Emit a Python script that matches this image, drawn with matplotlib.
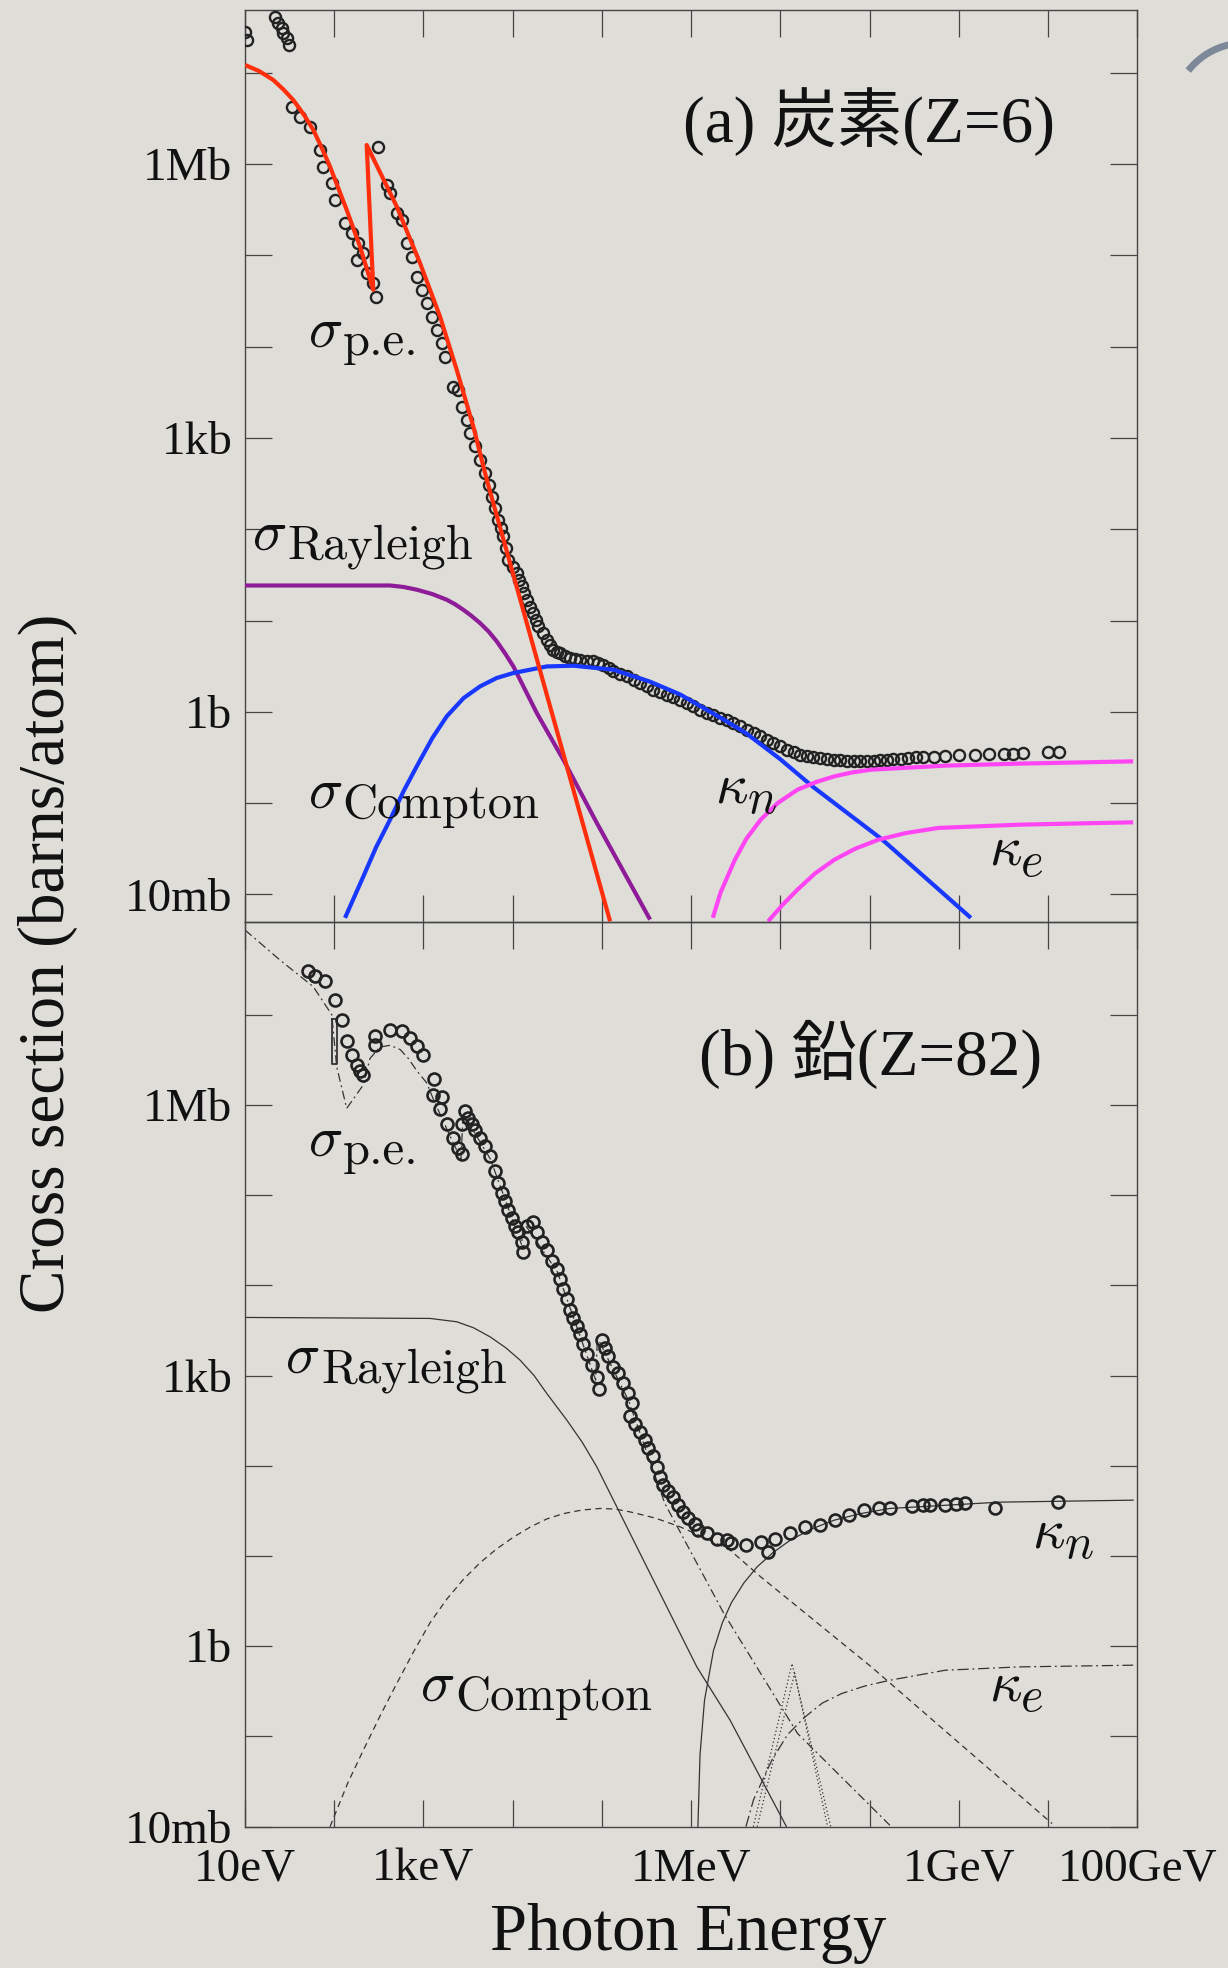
# coding: utf-8
# !/usr/bin/env python

import matplotlib
matplotlib.use('Agg')
import matplotlib.pyplot as plt
import numpy as np

from matplotlib.patches import Arc
from matplotlib.ticker import FixedLocator, FixedFormatter, NullLocator
from matplotlib.transforms import offset_copy


# all values are log10(E / eV) and log10(sigma / barn)

# (a) carbon, Z=6: measured total cross section
c_points = [
    (1.000, 7.452), (1.020, 7.361),
    (1.336, 7.617), (1.373, 7.544), (1.411, 7.490), (1.429, 7.435), (1.467, 7.380), (1.497, 7.307),
    (1.524, 6.631), (1.617, 6.521), (1.729, 6.412), (1.841, 6.157), (1.879, 5.974), (1.973, 5.792),
    (2.009, 5.609), (2.121, 5.354), (2.196, 5.244), (2.270, 5.135), (2.326, 5.025), (2.252, 4.952),
    (2.364, 4.806), (2.438, 4.697), (2.469, 4.550), (2.494, 6.193),
    (2.589, 5.773), (2.626, 5.682), (2.701, 5.463), (2.757, 5.390), (2.813, 5.135), (2.869, 4.988),
    (2.925, 4.769), (2.981, 4.623), (3.037, 4.478), (3.093, 4.331), (3.149, 4.185), (3.205, 4.039),
    (3.242, 3.893), (3.335, 3.564), (3.391, 3.528), (3.429, 3.345), (3.485, 3.199), (3.522, 3.054),
    (3.578, 2.907), (3.634, 2.761), (3.691, 2.616), (3.730, 2.480), (3.766, 2.359), (3.800, 2.230),
    (3.840, 2.104), (3.870, 2.010), (3.896, 1.921), (3.925, 1.790), (3.952, 1.666), (4.000, 1.590),
    (4.046, 1.520), (4.075, 1.440), (4.102, 1.374), (4.130, 1.300), (4.158, 1.228), (4.195, 1.150),
    (4.232, 1.082), (4.260, 1.010), (4.288, 0.935), (4.335, 0.860), (4.382, 0.790), (4.420, 0.730),
    (4.456, 0.680), (4.495, 0.660), (4.531, 0.644), (4.590, 0.615), (4.643, 0.589), (4.700, 0.580),
    (4.756, 0.571), (4.830, 0.560), (4.905, 0.552), (4.960, 0.535), (5.017, 0.516), (5.075, 0.480),
    (5.129, 0.443), (5.205, 0.415), (5.279, 0.388), (5.355, 0.350), (5.428, 0.315), (5.500, 0.280),
    (5.577, 0.242), (5.650, 0.215), (5.727, 0.187), (5.800, 0.160), (5.877, 0.132), (5.950, 0.095),
    (6.026, 0.059), (6.100, 0.022), (6.176, -0.013), (6.250, -0.040), (6.325, -0.068), (6.400, -0.095),
    (6.474, -0.123), (6.550, -0.160), (6.624, -0.196), (6.700, -0.233), (6.773, -0.270), (6.850, -0.306),
    (6.923, -0.342), (7.000, -0.380), (7.073, -0.415), (7.150, -0.445), (7.222, -0.470), (7.300, -0.485),
    (7.371, -0.495), (7.445, -0.507), (7.521, -0.517), (7.600, -0.525), (7.670, -0.532), (7.745, -0.538),
    (7.820, -0.543), (7.895, -0.543), (7.970, -0.543), (8.045, -0.538), (8.119, -0.532), (8.190, -0.525),
    (8.268, -0.517), (8.350, -0.512), (8.433, -0.506), (8.520, -0.500), (8.600, -0.495), (8.723, -0.490),
    (8.847, -0.488), (9.000, -0.478), (9.178, -0.470), (9.340, -0.462), (9.503, -0.459), (9.607, -0.459),
    (9.714, -0.451), (10.003, -0.444), (10.127, -0.444),
]

# (a) carbon: partial cross sections
c_pe_logE = [1.000, 1.160, 1.317, 1.430, 1.541, 1.655, 1.766, 1.860, 1.953, 2.140, 2.289, 2.438, 2.364, 2.701,
             2.962, 3.186, 3.373, 3.559, 3.710, 5.092]
c_pe_logsig = [7.088, 7.020, 6.923, 6.820, 6.704, 6.550, 6.376, 6.180, 5.974, 5.499, 5.097, 4.623, 6.211, 5.536,
               4.916, 4.331, 3.747, 3.126, 2.542, -2.296]

c_ray_logE = [1.000, 2.626, 2.775, 2.925, 3.100, 3.261, 3.355, 3.447, 3.540, 3.634, 3.730, 3.822, 3.915, 4.008,
              4.140, 4.270, 4.568, 4.943, 5.540]
c_ray_logsig = [1.384, 1.384, 1.368, 1.338, 1.290, 1.228, 1.178, 1.118, 1.050, 0.973, 0.880, 0.771, 0.640, 0.497,
                0.240, -0.013, -0.525, -1.218, -2.277]

c_comp_logE = [2.121, 2.327, 2.470, 2.626, 2.780, 2.925, 3.100, 3.261, 3.450, 3.634, 3.820, 4.008, 4.382, 4.680,
               5.129, 5.540, 5.877, 6.367, 6.624, 7.000, 7.359, 8.143, 9.135]
c_comp_logsig = [-2.258, -1.803, -1.483, -1.182, -0.865, -0.598, -0.287, -0.050, 0.150, 0.278, 0.370, 0.425,
                 0.497, 0.505, 0.461, 0.330, 0.190, -0.086, -0.240, -0.520, -0.817, -1.401, -2.258]

c_kn_logE = [6.243, 6.330, 6.491, 6.620, 6.780, 6.970, 7.193, 7.400, 7.607, 7.800, 8.020, 8.847, 9.673, 10.954]
c_kn_logsig = [-2.258, -1.980, -1.620, -1.390, -1.182, -1.000, -0.853, -0.770, -0.707, -0.665, -0.634, -0.590,
               -0.568, -0.543]

c_ke_logE = [6.863, 7.020, 7.193, 7.390, 7.607, 7.840, 8.101, 8.400, 8.767, 9.673, 10.954]
c_ke_logsig = [-2.296, -2.120, -1.948, -1.770, -1.620, -1.500, -1.401, -1.330, -1.273, -1.237, -1.211]

# (b) lead, Z=82: measured total cross section
pb_points = [
    (1.710, 7.488), (1.785, 7.429), (1.897, 7.375), (2.009, 7.157), (2.084, 6.945), (2.140, 6.705),
    (2.196, 6.551), (2.252, 6.447), (2.289, 6.379), (2.326, 6.334), (2.457, 6.764), (2.457, 6.660),
    (2.626, 6.831), (2.757, 6.823), (2.850, 6.741), (2.925, 6.651), (2.992, 6.551), (3.119, 6.288),
    (3.104, 6.108), (3.205, 6.085), (3.186, 5.949), (3.261, 5.790), (3.335, 5.632), (3.391, 5.519),
    (3.429, 5.451), (3.429, 5.790), (3.466, 5.927), (3.503, 5.858), (3.542, 5.790), (3.579, 5.723),
    (3.635, 5.632), (3.691, 5.542), (3.747, 5.429), (3.803, 5.271), (3.840, 5.134), (3.878, 5.021),
    (3.915, 4.931), (3.952, 4.840), (3.990, 4.750), (4.027, 4.660), (4.064, 4.592), (4.102, 4.479),
    (4.120, 4.366), (4.158, 4.660), (4.232, 4.705), (4.270, 4.592), (4.326, 4.479), (4.382, 4.388),
    (4.438, 4.275), (4.494, 4.184), (4.531, 4.071), (4.569, 3.958), (4.607, 3.845), (4.643, 3.732),
    (4.681, 3.641), (4.719, 3.551), (4.756, 3.460), (4.793, 3.347), (4.831, 3.234), (4.887, 3.121),
    (4.943, 2.986), (4.972, 2.849), (4.999, 3.393), (5.036, 3.302), (5.073, 3.212), (5.129, 3.099),
    (5.185, 3.030), (5.241, 2.917), (5.297, 2.804), (5.335, 2.691), (5.316, 2.556), (5.372, 2.465),
    (5.428, 2.375), (5.484, 2.284), (5.521, 2.193), (5.577, 2.103), (5.616, 1.990), (5.653, 1.877),
    (5.690, 1.786), (5.746, 1.719), (5.802, 1.651), (5.858, 1.560), (5.914, 1.492), (5.970, 1.424),
    (6.045, 1.356), (6.082, 1.288), (6.176, 1.250), (6.288, 1.194), (6.400, 1.175), (6.450, 1.139),
    (6.614, 1.120), (6.780, 1.157), (6.863, 1.046), (6.945, 1.194), (7.111, 1.250), (7.276, 1.323),
    (7.442, 1.342), (7.607, 1.397), (7.771, 1.452), (7.937, 1.508), (8.102, 1.527), (8.227, 1.527),
    (8.474, 1.552), (8.599, 1.563), (8.681, 1.563), (8.847, 1.563), (8.970, 1.574), (9.073, 1.589),
    (9.404, 1.527), (10.107, 1.600),
]

# (b) lead: partial cross sections
pb_pe_logE = [1.000, 1.392, 1.766, 1.972, 2.028, 2.140, 2.326, 2.401, 2.513, 2.626, 2.738, 2.831, 2.925, 3.037,
              3.111, 3.300, 3.420, 3.445, 3.750, 4.100, 4.120, 4.500, 4.930, 4.950, 5.300, 5.705, 6.367, 7.193,
              8.227]
pb_pe_logsig = [7.938, 7.605, 7.309, 7.000, 6.422, 5.961, 6.221, 6.514, 6.641, 6.660, 6.614, 6.514, 6.379, 6.243,
                6.062, 5.650, 5.400, 5.900, 5.400, 4.450, 4.700, 4.150, 2.950, 3.420, 2.720, 1.583, 0.363, -0.967,
                -1.984]
# the narrow N-edge box
pb_edge_logE = [1.972, 1.972, 2.028, 2.028, 1.972]
pb_edge_logsig = [6.950, 6.450, 6.450, 6.950, 6.950]

pb_ray_logE = [1.000, 3.074, 3.373, 3.560, 3.747, 3.920, 4.083, 4.240, 4.382, 4.607, 4.780, 4.943, 5.503, 6.064,
               6.437, 7.070]
pb_ray_logsig = [3.644, 3.633, 3.596, 3.530, 3.429, 3.310, 3.171, 3.000, 2.802, 2.506, 2.260, 1.988, 0.880, -0.229,
                 -0.820, -2.003]

pb_comp_logE = [1.953, 2.150, 2.326, 2.520, 2.701, 2.890, 3.074, 3.260, 3.447, 3.640, 3.822, 4.010, 4.195, 4.380,
                4.569, 4.780, 4.980, 5.150, 5.316, 5.600, 5.877, 6.160, 6.437, 6.780, 8.020, 10.045]
pb_comp_logsig = [-2.000, -1.520, -1.153, -0.760, -0.413, -0.060, 0.260, 0.520, 0.740, 0.930, 1.080, 1.210, 1.320,
                  1.410, 1.470, 1.510, 1.527, 1.520, 1.489, 1.420, 1.323, 1.200, 1.065, 0.769, -0.229, -1.965]

pb_kn_logE = [6.076, 6.100, 6.150, 6.250, 6.350, 6.450, 6.590, 6.739, 6.920, 7.111, 7.350, 7.603, 7.900, 8.227,
              9.460, 10.954]
pb_kn_logsig = [-2.000, -1.200, -0.600, -0.050, 0.260, 0.480, 0.700, 0.879, 1.040, 1.175, 1.300, 1.397, 1.470,
                1.527, 1.597, 1.619]

pb_ke_logE = [6.614, 6.700, 6.904, 7.080, 7.276, 7.470, 7.688, 7.950, 8.227, 8.847, 9.673, 10.954]
pb_ke_logsig = [-2.000, -1.700, -1.264, -0.980, -0.784, -0.630, -0.524, -0.440, -0.377, -0.266, -0.229, -0.210]

pb_gdr_logE = [6.697, 7.131, 7.565]
pb_gdr_logsig = [-2.000, -0.192, -2.000]
pb_gdr2_logE = [6.740, 7.160, 7.530]
pb_gdr2_logsig = [-2.000, -0.300, -2.000]

# axis ticks and labels
x_ticks = [1, 2, 3, 4, 5, 6, 7, 8, 9, 10, 11]
x_labels = {1: '10eV', 3: '1keV', 6: '1MeV', 9: '1GeV', 11: '100GeV'}
y_ticks = [-2, -1, 0, 1, 2, 3, 4, 5, 6, 7]
y_labels = {-2: '10mb', 0: '1b', 3: '1kb', 6: '1Mb'}

PAPER = '#dfddd8'
FRAME = '#454545'
INK = '#222222'
TEXT = '#111111'
SERIF = ['Liberation Serif', 'Noto Sans CJK JP']


# # # # # # # # # # # # # # # # # # # # # # # # # # # # # # # # # # # # # # #
# functions
# # # # # # # # # # # # # # # # # # # # # # # # # # # # # # # # # # # # # # #
def lin(v):
    return 10.0 ** np.asarray(v, dtype=float)


def setup_axis(ax, ylim, show_x=False):
    """Log axes with inward decade ticks on all four sides."""
    ax.set_xscale('log')
    ax.set_yscale('log')
    ax.set_xlim(1e1, 1e11)
    ax.set_ylim(*ylim)
    ax.set_facecolor('none')
    for s in ax.spines.values():
        s.set_color(FRAME)
        s.set_linewidth(1.0)

    ax.xaxis.set_major_locator(FixedLocator(lin(x_ticks)))
    ax.yaxis.set_major_locator(FixedLocator(lin(y_ticks)))
    ax.xaxis.set_minor_locator(NullLocator())
    ax.yaxis.set_minor_locator(NullLocator())
    ax.xaxis.set_major_formatter(FixedFormatter([x_labels.get(t, '') if show_x else '' for t in x_ticks]))
    ax.yaxis.set_major_formatter(FixedFormatter([y_labels.get(t, '') for t in y_ticks]))

    ax.tick_params(which='major', direction='in', length=19.5, width=0.9, color=FRAME,
                   top=True, right=True, labelsize=34, labelcolor=TEXT)
    ax.tick_params(axis='y', pad=9)
    ax.tick_params(axis='x', pad=15)
    for lab in ax.get_xticklabels() + ax.get_yticklabels():
        lab.set_family(SERIF)


def draw_points(ax, pts, ms=8.0, mew=1.7):
    pts = np.array(pts)
    ax.plot(lin(pts[:, 0]), lin(pts[:, 1]), 'o', ms=ms, mfc='none', mec=INK, mew=mew, zorder=3)


def label(ax, x, y, sym, sub, sub_font, dx, dy):
    """Greek symbol with a separately set subscript (dx, dy in points)."""
    ax.text(lin(x), lin(y), sym, fontsize=41, ha='left', va='baseline', color=TEXT, zorder=5)
    trans = offset_copy(ax.transData, fig=ax.figure, x=dx, y=dy, units='points')
    ax.text(lin(x), lin(y), sub, transform=trans, family=sub_font, fontsize=35,
            ha='left', va='baseline', color=TEXT, zorder=5)


def add_labels(ax, pe, ray, comp, kn, ke):
    label(ax, pe[0], pe[1], r'$\sigma$', 'p.e.', 'cmr10', 25, -6)
    label(ax, ray[0], ray[1], r'$\sigma$', 'Rayleigh', 'cmr10', 26, -6.5)
    label(ax, comp[0], comp[1], r'$\sigma$', 'Compton', 'cmr10', 25, -7)
    label(ax, kn[0], kn[1], r'$\kappa$', 'n', 'cmmi10', 24, -7.5)
    label(ax, ke[0], ke[1], r'$\kappa$', 'e', 'cmmi10', 23, -8)


def plot_carbon(ax):
    draw_points(ax, c_points)
    style = dict(lw=3.0, solid_capstyle='butt', solid_joinstyle='round', zorder=4)
    ax.plot(lin(c_ray_logE), lin(c_ray_logsig), color='#8e1c98', **style)
    ax.plot(lin(c_comp_logE), lin(c_comp_logsig), color='#1838ff', **style)
    ax.plot(lin(c_pe_logE), lin(c_pe_logsig), color='#ff2e0c', **style)
    ax.plot(lin(c_kn_logE), lin(c_kn_logsig), color='#ff44f4', **style)
    ax.plot(lin(c_ke_logE), lin(c_ke_logsig), color='#ff44f4', **style)

    add_labels(ax, (1.706, 4.002), (1.075, 1.775), (1.706, -1.054), (6.263, -0.999), (9.341, -1.675))
    ax.text(0.491, 0.8555, '(a) 炭素(Z=6)', transform=ax.transAxes, fontsize=47, family=SERIF,
            ha='left', va='baseline', color=TEXT)


def plot_lead(ax):
    thin = dict(color='#333333', lw=0.9, zorder=2)
    ax.plot(lin(pb_pe_logE), lin(pb_pe_logsig), ls=(0, (7, 3, 1.5, 3)), **thin)
    ax.plot(lin(pb_edge_logE), lin(pb_edge_logsig), color='#333333', lw=1.3, zorder=2)
    ax.plot(lin(pb_ray_logE), lin(pb_ray_logsig), ls='-', **thin)
    ax.plot(lin(pb_comp_logE), lin(pb_comp_logsig), ls=(0, (5, 3.5)), **thin)
    ax.plot(lin(pb_kn_logE), lin(pb_kn_logsig), ls='-', **thin)
    ax.plot(lin(pb_ke_logE), lin(pb_ke_logsig), ls=(0, (9, 3, 1.5, 3)), **thin)
    ax.plot(lin(pb_gdr_logE), lin(pb_gdr_logsig), ls=(0, (1, 2)), **thin)
    ax.plot(lin(pb_gdr2_logE), lin(pb_gdr2_logsig), ls=(0, (1, 2)), **thin)
    draw_points(ax, pb_points, ms=8.6, mew=1.9)

    add_labels(ax, (1.710, 5.432), (1.448, 3.027), (2.962, -0.598), (9.818, 1.098), (9.341, -0.598))
    ax.text(0.5085, 0.8306, '(b) 鉛(Z=82)', transform=ax.transAxes, fontsize=47, family=SERIF,
            ha='left', va='baseline', color=TEXT)


# # # # # # # # # # # # # # # # # # # # # # # # # # # # # # # # # # # # # # #
# main
# # # # # # # # # # # # # # # # # # # # # # # # # # # # # # # # # # # # # # #
def main():
    plt.rcParams['mathtext.fontset'] = 'cm'
    plt.rcParams['font.family'] = SERIF

    fig = plt.figure(figsize=(12.28, 19.68), dpi=100)
    fig.patch.set_facecolor(PAPER)

    ax_c = fig.add_axes([0.1995, 0.53166, 0.7266, 0.46326])
    ax_pb = fig.add_axes([0.1995, 0.07180, 0.7266, 0.45986])

    setup_axis(ax_c, (10 ** -2.30, 10 ** 7.69))
    setup_axis(ax_pb, (1e-2, 10 ** 8.03), show_x=True)

    plot_carbon(ax_c)
    plot_lead(ax_pb)

    fig.text(0.0391, 0.5104, 'Cross section (barns/atom)', rotation=90, fontsize=47,
             ha='center', va='center', color=TEXT)
    fig.text(0.5603, 0.0173, 'Photon Energy', fontsize=48, ha='center', va='center', color=TEXT)

    # slide ornament in the top right corner
    fig.add_artist(Arc((12.45, 18.53), 1.44, 1.44, theta1=103, theta2=142, lw=5, color='#7d8999',
                       transform=fig.dpi_scale_trans))

    fig.savefig('out.png', dpi=100, facecolor=fig.get_facecolor())
    plt.close(fig)


if __name__ == '__main__':
    main()
